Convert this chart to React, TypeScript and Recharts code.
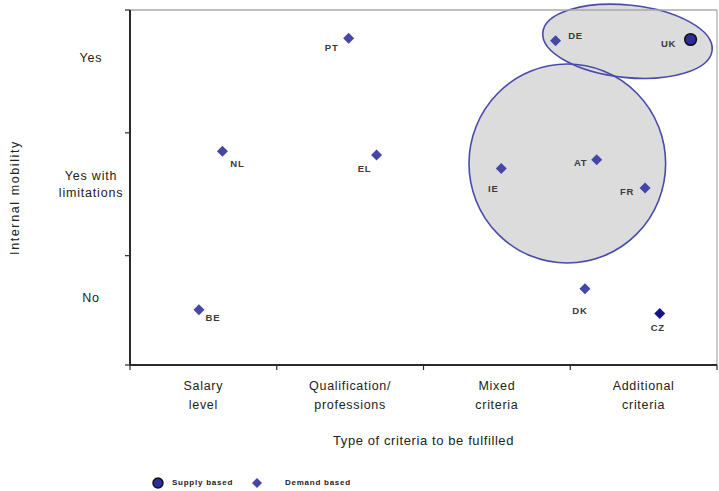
import React from "react";
import { ScatterChart, Scatter, XAxis, YAxis, ReferenceArea, ReferenceLine } from "recharts";

// ---- data ----
const X_TICKS = [0, 1, 2, 3, 4];
const X_CATEGORY_POS = [0.5, 1.5, 2.5, 3.5];
const X_CATEGORIES = [
  ["Salary", "level"],
  ["Qualification/", "professions"],
  ["Mixed", "criteria"],
  ["Additional", "criteria"],
];

const Y_TICKS = [0.11, 1, 2, 3];
const Y_LEVEL_POS = [0.66, 1.58, 2.61];
const Y_LEVELS = [["No"], ["Yes with", "limitations"], ["Yes"]];

const DEMAND_BASED = [
  { code: "BE", x: 0.47, y: 0.56 },
  { code: "NL", x: 0.63, y: 1.85 },
  { code: "PT", x: 1.49, y: 2.77 },
  { code: "EL", x: 1.68, y: 1.82 },
  { code: "IE", x: 2.53, y: 1.71 },
  { code: "DE", x: 2.9, y: 2.75 },
  { code: "AT", x: 3.18, y: 1.78 },
  { code: "FR", x: 3.51, y: 1.55 },
  { code: "DK", x: 3.1, y: 0.73 },
  { code: "CZ", x: 3.61, y: 0.53 },
];
const SUPPLY_BASED = [{ code: "UK", x: 3.82, y: 2.76 }];

// groups drawn as ellipses (bounding box in data units)
const ELLIPSES = [
  { id: "top", x1: 2.81, x2: 3.97, y1: 2.45, y2: 3.04 },
  { id: "mid", x1: 2.31, x2: 3.65, y1: 0.94, y2: 2.56 },
];

const LEGEND_ITEMS = ["Supply based", "Demand based"];

// ---- styles ----
const FONT = "'Liberation Sans', Arial, sans-serif";
const AXIS = "#2a2a2a";
const BORDER = "#a8a8a8";
const DIAMOND = "#4646a8";
const DIAMOND_DARK = "#14148a";
const ELLIPSE_FILL = "#dcdcdc";
const ELLIPSE_STROKE = "#4a4aac";
const ELLIPSE_TILT: Record<string, number> = { top: 6, mid: 0 };

// label offset from marker, px
const LABEL_OFFSET: Record<string, [number, number]> = {
  BE: [14, 8],
  NL: [15, 12],
  PT: [-17, 9],
  EL: [-12, 14],
  IE: [-8, 20],
  DE: [20, -5],
  AT: [-16, 3],
  FR: [-18, 3],
  DK: [-5, 22],
  CZ: [-2, 14],
  UK: [-22, 4],
};

const sortNum = (a: number, b: number) => a - b;
const X_ALL_TICKS = [...X_TICKS, ...X_CATEGORY_POS].sort(sortNum);
const Y_ALL_TICKS = [...Y_TICKS, ...Y_LEVEL_POS].sort(sortNum);

function PointLabel({ cx, cy, code }: { cx: number; cy: number; code: string }) {
  const [dx, dy] = LABEL_OFFSET[code] ?? [10, 0];
  return (
    <text
      x={cx + dx}
      y={cy + dy}
      dy="0.36em"
      textAnchor="middle"
      fontFamily={FONT}
      fontSize={9.5}
      fontWeight="bold"
      letterSpacing={0.8}
      fill="#3a3a3a"
    >
      {code}
    </text>
  );
}

function DiamondShape(props: any) {
  const { cx, cy, payload } = props;
  const r = 5.5;
  const fill = payload.code === "CZ" ? DIAMOND_DARK : DIAMOND;
  return (
    <g>
      <polygon
        points={`${cx},${cy - r} ${cx + r},${cy} ${cx},${cy + r} ${cx - r},${cy}`}
        fill={fill}
      />
      <PointLabel cx={cx} cy={cy} code={payload.code} />
    </g>
  );
}

function CircleShape(props: any) {
  const { cx, cy, payload } = props;
  return (
    <g>
      <circle cx={cx} cy={cy} r={5.8} fill="#2c2c9c" stroke="#111" strokeWidth={1.6} />
      <PointLabel cx={cx} cy={cy} code={payload.code} />
    </g>
  );
}

function makeEllipse(id: string, mode: "fill" | "stroke") {
  return (props: any) => {
    const { x, y, width, height } = props;
    const cx = x + width / 2;
    const cy = y + height / 2;
    return (
      <ellipse
        cx={cx}
        cy={cy}
        rx={Math.abs(width) / 2}
        ry={Math.abs(height) / 2}
        transform={`rotate(${ELLIPSE_TILT[id] ?? 0} ${cx} ${cy})`}
        fill={mode === "fill" ? ELLIPSE_FILL : "none"}
        stroke={mode === "stroke" ? ELLIPSE_STROKE : "none"}
        strokeWidth={1.6}
      />
    );
  };
}

// bottom axis: integer values get a tick mark, half values get the category label
function XTick(props: any) {
  const { x, y, payload } = props;
  if (X_TICKS.includes(payload.value)) {
    return <line x1={x} x2={x} y1={y} y2={y + 5} stroke={AXIS} strokeWidth={1.2} />;
  }
  const lines = X_CATEGORIES[X_CATEGORY_POS.indexOf(payload.value)] ?? [];
  return (
    <text textAnchor="middle" fontFamily={FONT} fontSize={12.5} letterSpacing={0.7} fill="#222">
      {lines.map((line, i) => (
        <tspan key={line} x={x} y={y + 25 + i * 18.5}>
          {line}
        </tspan>
      ))}
    </text>
  );
}

function YTick(props: any) {
  const { x, y, payload } = props;
  if (Y_TICKS.includes(payload.value)) {
    return <line x1={x - 5} x2={x} y1={y} y2={y} stroke={AXIS} strokeWidth={1.2} />;
  }
  const lines = Y_LEVELS[Y_LEVEL_POS.indexOf(payload.value)] ?? [];
  const cx = x - 39;
  return (
    <text textAnchor="middle" fontFamily={FONT} fontSize={12.5} letterSpacing={0.8} fill="#222">
      {lines.map((line, i) => (
        <tspan key={line} x={cx} y={y + 4.5 + (i - (lines.length - 1) / 2) * 17}>
          {line}
        </tspan>
      ))}
    </text>
  );
}

function XTitle(props: any) {
  const { viewBox } = props;
  return (
    <text
      x={viewBox.x + viewBox.width / 2}
      y={viewBox.y + 80}
      textAnchor="middle"
      fontFamily={FONT}
      fontSize={13}
      letterSpacing={0.6}
      fill="#222"
    >
      Type of criteria to be fulfilled
    </text>
  );
}

function YTitle(props: any) {
  const { viewBox } = props;
  const cx = viewBox.x + 19;
  const cy = viewBox.y + viewBox.height / 2 + 10;
  return (
    <text
      x={cx}
      y={cy}
      transform={`rotate(-90 ${cx} ${cy})`}
      textAnchor="middle"
      fontFamily={FONT}
      fontSize={12.5}
      letterSpacing={1.6}
      fill="#222"
    >
      Internal mobility
    </text>
  );
}

function LegendBox() {
  const text = {
    fontFamily: FONT,
    fontSize: 8,
    fontWeight: "bold" as const,
    letterSpacing: 0.75,
    fill: "#222",
  };
  return (
    <svg
      width={230}
      height={20}
      style={{ position: "absolute", left: 140, top: 473, display: "block" }}
    >
      <circle cx={18} cy={10} r={5} fill="#2c2c9c" stroke="#111" strokeWidth={1.5} />
      <text x={32} y={10} dy="0.3em" {...text}>
        {LEGEND_ITEMS[0]}
      </text>
      <polygon points="117,5 122,10 117,15 112,10" fill={DIAMOND} />
      <text x={145} y={10} dy="0.3em" {...text}>
        {LEGEND_ITEMS[1]}
      </text>
    </svg>
  );
}

export default function App() {
  return (
    <div style={{ position: "absolute", left: 0, top: 0, width: 719, height: 491, background: "#fff" }}>
      <ScatterChart width={719} height={491} margin={{ top: 10, right: 2, bottom: 40, left: 0 }}>
        <XAxis
          xAxisId="main"
          type="number"
          dataKey="x"
          domain={[0, 4]}
          ticks={X_ALL_TICKS}
          interval={0}
          tick={<XTick />}
          tickSize={0}
          tickMargin={0}
          tickLine={false}
          axisLine={{ stroke: AXIS, strokeWidth: 2 }}
          height={86}
          allowDataOverflow
          label={<XTitle />}
        />
        <YAxis
          yAxisId="main"
          type="number"
          dataKey="y"
          domain={[0.11, 3]}
          ticks={Y_ALL_TICKS}
          interval={0}
          tick={<YTick />}
          tickSize={0}
          tickMargin={0}
          tickLine={false}
          axisLine={{ stroke: AXIS, strokeWidth: 2 }}
          width={130}
          allowDataOverflow
          label={<YTitle />}
        />

        <ReferenceLine xAxisId="main" yAxisId="main" y={3} stroke={BORDER} strokeWidth={1.6} />
        <ReferenceLine xAxisId="main" yAxisId="main" x={4} stroke={BORDER} strokeWidth={1.2} />

        {ELLIPSES.map((e) => (
          <ReferenceArea
            key={`f-${e.id}`}
            xAxisId="main"
            yAxisId="main"
            x1={e.x1}
            x2={e.x2}
            y1={e.y1}
            y2={e.y2}
            ifOverflow="visible"
            shape={makeEllipse(e.id, "fill")}
          />
        ))}
        {ELLIPSES.map((e) => (
          <ReferenceArea
            key={`s-${e.id}`}
            xAxisId="main"
            yAxisId="main"
            x1={e.x1}
            x2={e.x2}
            y1={e.y1}
            y2={e.y2}
            ifOverflow="visible"
            shape={makeEllipse(e.id, "stroke")}
          />
        ))}

        <Scatter
          name="Demand based"
          xAxisId="main"
          yAxisId="main"
          data={DEMAND_BASED}
          shape={<DiamondShape />}
          isAnimationActive={false}
        />
        <Scatter
          name="Supply based"
          xAxisId="main"
          yAxisId="main"
          data={SUPPLY_BASED}
          shape={<CircleShape />}
          isAnimationActive={false}
        />
      </ScatterChart>
      <LegendBox />
    </div>
  );
}
